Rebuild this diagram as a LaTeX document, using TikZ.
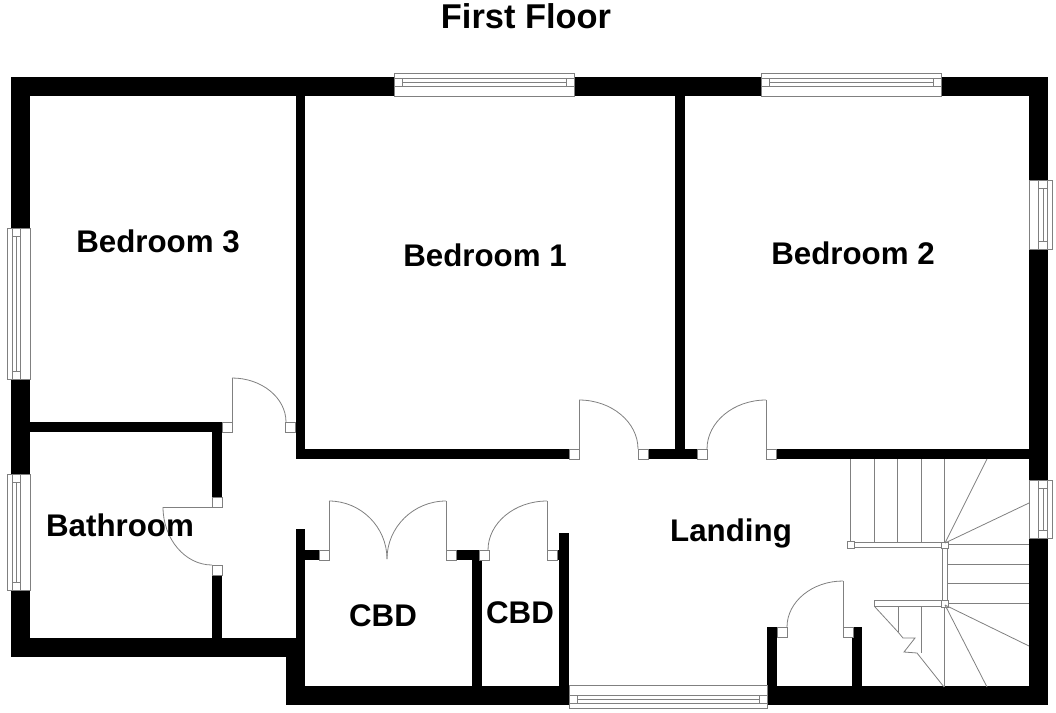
\documentclass[tikz,border=0pt]{standalone}
\usepackage{fontspec}
\setmainfont{Liberation Sans}
\tikzset{
    wall/.style={fill=black},
    fine/.style={draw=black!50, line width=0.8pt},
    jamb/.style={fine, fill=white},
    room/.style={font=\fontsize{31.3}{31.3}\bfseries\selectfont, anchor=base, inner sep=0pt},
}
\begin{document}
\begin{tikzpicture}[x=1pt, y=-1pt]
    \useasboundingbox (0,0) rectangle (1056,712);
    % walls
    \begin{scope}
        \foreach \xa/\ya/\xb/\yb in {
            11/77/1048/96, 11/77/30/657, 1029/77/1048/705, 11/638/305/657,
            286/638/305/705, 286/686/1048/705,
            296/96/305/459, 675/96/685/459, 296/449/569/459, 648/449/697/459,
            776/449/1030/459, 11/422/222/432, 212/422/222/497, 212/575/222/638,
            296/529/305/638, 305/550/319/560, 456/550/479/560, 472/560/482/686,
            559/533/569/686, 557/550/559/560,
            767/627/777/686, 852/627/862/686} {
            \fill[wall] (\xa,\ya) rectangle (\xb,\yb);
        }
    \end{scope}
    % windows
    \begin{scope}
        \foreach \xa/\xb/\ya/\yb/\yc/\yd/\ye in {
            394/574/73/78/82/86/96, 761/941/73/78/82/86/96,
            569/767/708/703/699/695/685} {
            \draw[jamb] (\xa,\ya) rectangle (\xb,\ye);
            \draw[fine] (\xa,\yb) -- (\xb,\yb) (\xa,\yd) -- (\xb,\yd);
            \draw[fine] (\xa+8,\yb) rectangle (\xb-8,\yd);
            \draw[fine] (\xa+8,\yc) -- (\xb-8,\yc);
        }
        \foreach \ya/\yb/\xa/\xb/\xc/\xd/\xe in {
            228/379/7.5/12/16/20.5/30, 474/590/7.5/12/16/20.5/30,
            180/249/1052/1047/1043/1038/1029, 480/538/1052/1047/1043/1038/1029} {
            \draw[jamb] (\xa,\ya) rectangle (\xe,\yb);
            \draw[fine] (\xb,\ya) -- (\xb,\yb) (\xd,\ya) -- (\xd,\yb);
            \draw[fine] (\xb,\ya+8) rectangle (\xd,\yb-8);
            \draw[fine] (\xc,\ya+8) -- (\xc,\yb-8);
        }
    \end{scope}
    % doors
    \begin{scope}
        \foreach \x/\y in {
            569/449, 638/449, 697/449, 766/449, 222/422, 285/422, 212/497, 212/565,
            319/550, 446/550, 479/550, 547/550, 777/627, 843/627} {
            \draw[jamb] (\x,\y) rectangle +(10,10);
        }
        \foreach \xa/\ya/\xb/\yb in {
            579/400/638/449, 766/400/707/449, 232/378/286/422, 212/565/163/507,
            329/501/387/559, 446/501/387/559, 547/501/488/550, 843/581/787/627} {
            \pgfmathsetmacro\xc{\xa+0.55*(\xb-\xa)}
            \pgfmathsetmacro\yc{\yb-0.55*(\yb-\ya)}
            \draw[fine] (\xa,\ya) .. controls (\xc,\ya) and (\xb,\yc) .. (\xb,\yb);
        }
        \draw[fine] (579,400) -- (579,459) (766,400) -- (766,459) (232,378) -- (232,432)
            (163,507) -- (212,507) (329,501) -- (329,560) (446,501) -- (446,560)
            (547,501) -- (547,560) (843,581) -- (843,637);
    \end{scope}
    % stairs
    \begin{scope}
        \foreach \x in {850,874,897,921,944} {
            \draw[fine] (\x,459) -- (\x,542);
        }
        \foreach \y in {544,564,583,603} {
            \draw[fine] (947,\y) -- (1029,\y);
        }
        \draw[jamb] (854,542) rectangle (941,547);
        \draw[jamb] (874,600) rectangle (941,606);
        \draw[jamb] (942,548) rectangle (947,600);
        \draw[jamb] (847,541) rectangle (854,548);
        \draw[jamb] (941,542) rectangle (948,548);
        \draw[jamb] (941,600) rectangle (948,607);
        \draw[fine] (945,543) -- (987,459) (945,543) -- (1029,503);
        \draw[fine] (945,605) -- (1029,646) (945,605) -- (987,687);
        \draw[fine] (944,607) -- (944,687) (898,606) -- (898,632) (921,606) -- (921,653);
        \draw[fine] (875,607) -- (898,632) -- (903,638) -- (915,638) -- (904,652)
            -- (917,653) -- (944,687);
    \end{scope}
    % labels
    \begin{scope}
        \node[room, font=\fontsize{34.4}{34.4}\bfseries\selectfont] (title) at (526,28) {First Floor};
        \node[room] (bed3) at (158,252) {Bedroom 3};
        \node[room] (bed1) at (485,266) {Bedroom 1};
        \node[room] (bed2) at (853,264) {Bedroom 2};
        \node[room] (bath) at (120,536) {Bathroom};
        \node[room] (land) at (731,541) {Landing};
        \node[room] (cbd1) at (383,626) {CBD};
        \node[room] (cbd2) at (520,623) {CBD};
    \end{scope}
\end{tikzpicture}
\end{document}
